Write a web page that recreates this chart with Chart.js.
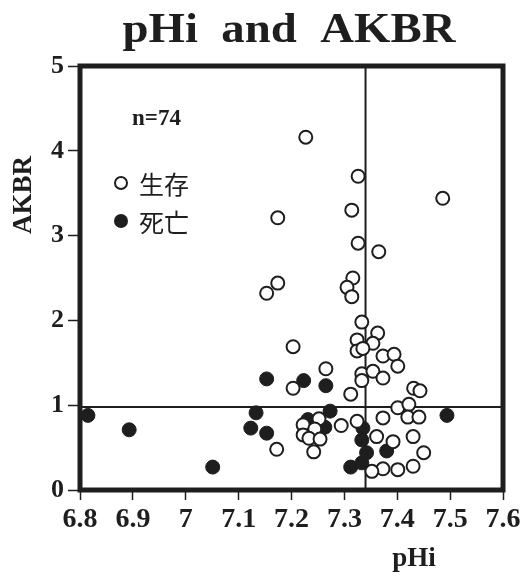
<!DOCTYPE html>
<html>
<head>
<meta charset="utf-8">
<script src="https://cdn.jsdelivr.net/npm/chart.js@4"></script>
<style>
  html, body { margin: 0; padding: 0; background: #fff; }
  #wrap { width: 524px; height: 576px; }
</style>
</head>
<body>
<div id="wrap"><canvas id="c" width="524" height="576"></canvas></div>
<script>
// ── data ────────────────────────────────────────────────────
const TITLE = 'pHi  and  AKBR';
const X_LABEL = 'pHi';
const Y_LABEL = 'AKBR';
const N_LABEL = 'n=74';
const SERIES_NAMES = ['生存', '死亡'];
const CUT_PHI = 7.34;    // vertical reference line
const CUT_AKBR = 0.98;   // horizontal reference line

// survivors (open circles)
const aliveX = [7.227, 7.326, 7.486, 7.314, 7.174, 7.326, 7.365, 7.316, 7.305, 7.314,
  7.174, 7.153, 7.203, 7.333, 7.363, 7.324, 7.354, 7.324, 7.335, 7.373,
  7.394, 7.401, 7.333, 7.354, 7.373, 7.333, 7.312, 7.431, 7.443, 7.401,
  7.422, 7.420, 7.441, 7.373, 7.324, 7.294, 7.430, 7.361, 7.392, 7.450,
  7.430, 7.401, 7.373, 7.352, 7.265, 7.203, 7.172, 7.252, 7.222, 7.244,
  7.222, 7.233, 7.254, 7.242];
const aliveY = [4.16, 3.70, 3.44, 3.30, 3.21, 2.91, 2.81, 2.50, 2.39, 2.28,
  2.44, 2.32, 1.69, 1.98, 1.85, 1.77, 1.73, 1.64, 1.67, 1.58,
  1.60, 1.46, 1.37, 1.40, 1.32, 1.29, 1.13, 1.20, 1.17, 0.97,
  1.01, 0.86, 0.86, 0.85, 0.81, 0.76, 0.63, 0.63, 0.57, 0.44,
  0.28, 0.24, 0.25, 0.22, 1.43, 1.20, 0.48, 0.84, 0.77, 0.72,
  0.65, 0.61, 0.60, 0.45];

// deaths (filled circles)
const deadX = [6.815, 6.893, 7.051, 7.133, 7.123, 7.153, 7.153, 7.223, 7.265, 7.273,
  7.231, 7.263, 7.335, 7.333, 7.342, 7.380, 7.333, 7.312, 7.494];
const deadY = [0.88, 0.71, 0.27, 0.91, 0.73, 0.67, 1.31, 1.29, 1.23, 0.93,
  0.83, 0.74, 0.73, 0.59, 0.44, 0.46, 0.32, 0.27, 0.88];

const X_MIN = 6.8, X_MAX = 7.6, X_STEP = 0.1;
const Y_MIN = 0, Y_MAX = 5, Y_STEP = 1;

// ── style ───────────────────────────────────────────────────
const INK = '#1e1e1e';
const SERIF = '"Liberation Serif", "Times New Roman", serif';
const CJK = '"Noto Sans CJK JP", "Noto Sans CJK SC", sans-serif';

function pts(xs, ys) { return xs.map((x, i) => ({ x, y: ys[i] })); }

// frame, reference lines, title, labels and the in-plot legend
const decor = {
  id: 'decor',
  beforeDatasetsDraw(chart) {
    const { ctx, chartArea: a, scales: { x, y } } = chart;
    ctx.save();
    ctx.strokeStyle = INK;
    ctx.lineWidth = 2;
    const vx = x.getPixelForValue(CUT_PHI);
    const hy = y.getPixelForValue(CUT_AKBR);
    ctx.beginPath();
    ctx.moveTo(vx, a.top); ctx.lineTo(vx, a.bottom);
    ctx.moveTo(a.left, hy); ctx.lineTo(a.right, hy);
    ctx.stroke();
    ctx.restore();
  },
  afterDraw(chart) {
    const { ctx, chartArea: a } = chart;
    ctx.save();
    // thick frame
    ctx.strokeStyle = INK;
    ctx.lineWidth = 5;
    ctx.strokeRect(a.left, a.top, a.right - a.left, a.bottom - a.top);

    ctx.fillStyle = INK;
    // title, a touch wider than Times
    ctx.font = `bold 43px ${SERIF}`;
    ctx.textAlign = 'center';
    ctx.textBaseline = 'alphabetic';
    const tw = ctx.measureText(TITLE).width;
    const sx = 333 / tw;
    ctx.save();
    ctx.translate(289, 42);
    ctx.scale(sx, 1);
    ctx.fillText(TITLE, 0, 0);
    ctx.restore();

    // axis titles (off-centre like the original)
    ctx.font = `bold 27px ${SERIF}`;
    ctx.fillText(X_LABEL, a.left + 334, a.bottom + 76);
    ctx.save();
    ctx.translate(31, a.top + 129);
    ctx.rotate(-Math.PI / 2);
    ctx.fillText(Y_LABEL, 0, 0);
    ctx.restore();

    // legend block
    ctx.textAlign = 'left';
    ctx.font = `bold 23px ${SERIF}`;
    ctx.fillText(N_LABEL, a.left + 52, a.top + 59);

    const mx = a.left + 41;
    const rows = [a.top + 117, a.top + 155];
    chart.data.datasets.forEach((ds, i) => {
      ctx.beginPath();
      ctx.arc(mx, rows[i], 6, 0, Math.PI * 2);
      ctx.fillStyle = ds.backgroundColor;
      ctx.fill();
      ctx.lineWidth = 2;
      ctx.strokeStyle = INK;
      ctx.stroke();
      ctx.fillStyle = INK;
      ctx.font = `25px ${CJK}`;
      ctx.textBaseline = 'middle';
      ctx.fillText(ds.label, mx + 18, rows[i] + 1);
    });
    ctx.restore();
  },
};

new Chart(document.getElementById('c'), {
  type: 'scatter',
  data: {
    datasets: [
      { label: SERIES_NAMES[0], data: pts(aliveX, aliveY), backgroundColor: '#ffffff', borderColor: INK, borderWidth: 2, pointRadius: 6.5, pointHoverRadius: 6.5 },
      { label: SERIES_NAMES[1], data: pts(deadX, deadY), backgroundColor: INK, borderColor: INK, borderWidth: 1, pointRadius: 7, pointHoverRadius: 7 },
    ],
  },
  options: {
    responsive: false, animation: false, devicePixelRatio: 1,
    layout: { padding: { top: 66, right: 21, left: 0, bottom: 0 } },
    plugins: { legend: { display: false }, tooltip: { enabled: false }, title: { display: false } },
    scales: {
      x: {
        type: 'linear', min: X_MIN, max: X_MAX,
        afterFit(s) { s.height = 86; },
        border: { display: false },
        grid: { drawOnChartArea: false, drawTicks: true, tickLength: 10, tickWidth: 1.5, tickColor: INK },
        ticks: {
          stepSize: X_STEP, padding: 3, color: INK, maxRotation: 0, autoSkip: false,
          font: { family: SERIF, size: 28, weight: 'bold' },
          callback: v => String(Math.round(v * 10) / 10),
        },
      },
      y: {
        type: 'linear', min: Y_MIN, max: Y_MAX,
        afterFit(s) { s.width = 80; },
        border: { display: false },
        grid: { drawOnChartArea: false, drawTicks: true, tickLength: 12, tickWidth: 1.5, tickColor: INK },
        ticks: {
          stepSize: Y_STEP, padding: 4, color: INK,
          font: { family: SERIF, size: 26, weight: 'bold' },
        },
      },
    },
  },
  plugins: [decor],
});
</script>
</body>
</html>
